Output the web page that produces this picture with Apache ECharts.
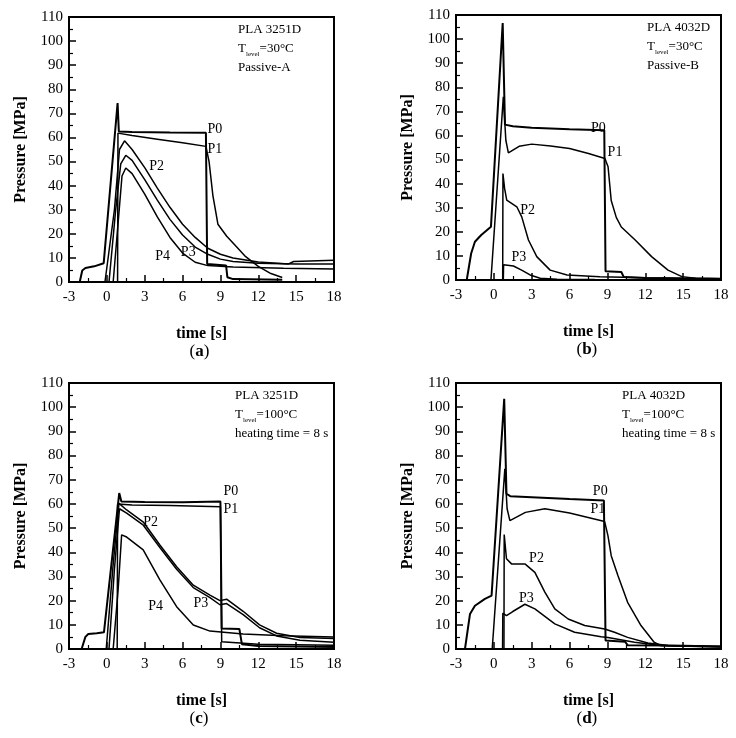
<!DOCTYPE html>
<html><head><meta charset="utf-8">
<script src="https://cdn.jsdelivr.net/npm/echarts@6/dist/echarts.min.js"></script>
<style>html,body{margin:0;padding:0;background:#fff}#c{width:736px;height:738px}</style>
</head><body><div id="c"></div>
<script>
// ---- axis ticks ----
const xMin = -3, xMax = 18, xStep = 3;
const yMin = 0, yMax = 110, yStep = 10;

// ---- panel (a) PLA 3251D, T=30°C, Passive-A ----
const a_P0 = [[-3,0],[-2.15,0],[-1.95,4.8],[-1.7,5.8],[-1,6.5],[-0.25,7.8],[0.85,74.3],[0.95,62.5],[2,62.3],[5,62.1],[7.85,62],[7.95,7.5],[9.45,6.8],[9.55,2],[10,1.2],[13.9,0.9]];
const a_P1 = [[0.85,0],[0.88,61.8],[2,60.8],[4,59.3],[6,57.8],[7.85,56.3],[8.1,50],[8.4,36],[8.8,24],[9.5,19],[10.2,15],[11,10.5],[12,6.5],[13,3.5],[13.9,1.9]];
const a_P2 = [[-0.15,0],[0.6,30],[1.0,55],[1.4,58.6],[2,55],[3,47.5],[4,39],[5,31],[6,24],[7,18.5],[8,14],[9,11.5],[10,10],[12,8.3],[14.4,7.5],[14.8,8.5],[18,9]];
const a_P3 = [[0.17,0],[0.7,30],[1.1,49],[1.5,52.6],[2,50.5],[3,42.5],[4,34],[5,26],[6,19.5],[7,14.5],[8,11.5],[9,9.5],[10,8.5],[12,7.8],[15,7.5],[18,7.5]];
const a_P4 = [[0.5,0],[0.9,25],[1.2,44],[1.5,47.3],[2,45],[3,36.5],[4,27],[5,18.5],[6,12],[7,8.2],[8,6.8],[10,6.2],[14,5.7],[18,5.4]];

// ---- panel (b) PLA 4032D, T=30°C, Passive-B ----
const b_P0 = [[-3,0],[-2.15,0],[-1.8,11],[-1.5,15.9],[-1,18.7],[-0.23,22.1],[0.7,106.7],[0.88,64.5],[1.5,63.8],[3,63.2],[6,62.6],[8.75,62.2],[8.85,3.6],[10.1,3.3],[10.3,1.2],[12,0.8],[15,0.6],[18,0.5]];
const b_P1 = [[-0.23,0],[0.75,76],[0.95,58],[1.15,52.8],[2,55.5],[3,56.4],[4.5,55.6],[6,54.6],[7.5,52.5],[8.8,50.4],[9.05,47],[9.3,33],[9.7,26],[10.1,22],[11.2,16.6],[12.5,9.7],[13.8,4.1],[14.9,1.4],[16,0.7],[18,0.5]];
const b_P2 = [[0.7,0],[0.72,44.2],[0.85,38],[1.02,33.2],[1.82,30.4],[2.21,26.2],[2.74,16.6],[3.4,9.7],[4.46,4.1],[5.8,2.1],[8.4,1.4],[12,0.9],[18,0.5]];
const b_P3 = [[0.75,0],[0.77,6.3],[1.55,5.8],[2.2,4.1],[2.87,2.1],[3.67,0.7],[5,0.3],[8,0.2]];

// ---- panel (c) PLA 3251D, T=100°C, heating 8 s ----
const c_P0 = [[-3,0],[-2.0,0],[-1.7,5],[-1.47,6.2],[-0.8,6.5],[-0.23,6.9],[0.98,64.5],[1.15,61],[3,60.8],[6,60.7],[9,61],[9.1,8.5],[10.5,8.3],[10.7,2],[12,1.2],[18,0.8]];
const c_P1 = [[0.82,0],[0.85,60],[2,59.5],[5,59.3],[9,58.8],[9.1,3],[12,2],[15,1.8],[18,1.5]];
const c_P2 = [[-0.05,0],[0.5,35],[0.96,60.2],[1.57,57.5],[2.89,52.5],[4.2,43],[5.53,34],[6.85,26.4],[8.17,22.3],[8.96,20],[9.49,20.6],[10.8,15.6],[12.1,10],[13.45,6.5],[15.3,4.8],[18,4.3]];
const c_P3 = [[0.17,0],[0.6,33],[1.0,58],[1.57,56.2],[2.89,51.2],[4.2,42],[5.53,33],[6.85,25.4],[8.17,21.2],[8.96,18.3],[9.49,18.8],[10.8,14.2],[12.1,8.8],[13.45,5.4],[15.3,3.6],[18,2.8]];
const c_P4 = [[0.5,0],[0.9,25],[1.17,47.2],[1.57,46.3],[2.88,41],[4.2,28.6],[5.53,17.5],[6.85,9.9],[8.17,7.4],[10.8,6.2],[14,5.5],[18,5]];

// ---- panel (d) PLA 4032D, T=100°C, heating 8 s ----
const d_P0 = [[-3,0],[-2.29,0],[-1.89,14.5],[-1.5,17.9],[-0.71,20.7],[-0.18,22.1],[0.82,103.5],[1.0,64.2],[1.3,63.2],[3,62.8],[6,62],[8.72,61.4],[8.85,3.5],[10.4,3],[10.6,1.6],[14,1.4],[18,1]];
const d_P1 = [[-0.13,0],[0.87,74.5],[1.05,58],[1.27,53.1],[2.5,56.5],[4.04,58],[6,56.2],[8.78,52.7],[9.04,46.9],[9.3,38.6],[9.83,30.4],[10.6,19.3],[11.66,9.7],[12.7,2.8],[13.25,1.4],[15,1.1],[18,1]];
const d_P2 = [[0.8,0],[0.82,47.3],[1.0,37.3],[1.4,35.2],[2.46,35.2],[3.25,31.7],[4.04,23.5],[4.83,16.6],[5.89,12.4],[7.2,9.7],[8.78,8.3],[9.56,6.9],[10.6,4.8],[12.2,2.5],[13.8,1.4],[18,1]];
const d_P3 = [[0.69,0],[0.71,14.8],[1.0,13.8],[1.5,15.5],[2.46,18.5],[3.25,16.6],[4.83,10.4],[6.4,6.9],[8.5,5.1],[9.04,4.8],[11.15,2.8],[13.25,1.4],[18,0.8]];

// ---- curve label positions [x, y, text] ----
const a_labels = [[8.56,63.4,'P0'],[8.56,55,'P1'],[3.94,47.9,'P2'],[6.45,12.4,'P3'],[4.42,10.6,'P4']];
const b_labels = [[8.28,62.9,'P0'],[9.6,52.8,'P1'],[2.68,29,'P2'],[1.99,9.3,'P3']];
const c_labels = [[9.82,65.4,'P0'],[9.82,57.7,'P1'],[3.46,52.2,'P2'],[7.45,18.9,'P3'],[3.86,17.5,'P4']];
const d_labels = [[8.43,65.4,'P0'],[8.25,57.7,'P1'],[3.38,37.5,'P2'],[2.58,21,'P3']];

// ---- annotation text ----
const a_note = ['PLA 3251D','30°C','Passive-A'];
const b_note = ['PLA 4032D','30°C','Passive-B'];
const c_note = ['PLA 3251D','100°C','heating time = 8 s'];
const d_note = ['PLA 4032D','100°C','heating time = 8 s'];
const captions = ['a','b','c','d'];

const FONT = '"Liberation Serif","DejaVu Serif",serif';
const grids = [
  {left:69, top:17, width:265, height:265},
  {left:456, top:15, width:265, height:265},
  {left:69, top:383, width:265, height:266},
  {left:456, top:383, width:265, height:266}
];
const noteLeft = [238, 647, 235, 622];
const panels = [
  {curves:[a_P0,a_P1,a_P2,a_P3,a_P4], labels:a_labels, note:a_note},
  {curves:[b_P0,b_P1,b_P2,b_P3], labels:b_labels, note:b_note},
  {curves:[c_P0,c_P1,c_P2,c_P3,c_P4], labels:c_labels, note:c_note},
  {curves:[d_P0,d_P1,d_P2,d_P3], labels:d_labels, note:d_note}
];

const option = {
  animation:false,
  backgroundColor:'#fff',
  grid: grids.map(g => Object.assign({show:true, borderColor:'#000', borderWidth:2, backgroundColor:'transparent'}, g)),
  xAxis: grids.map((g,i) => ({
    gridIndex:i, type:'value', min:xMin, max:xMax, interval:xStep,
    name:'time [s]', nameLocation:'middle', nameGap:44,
    nameTextStyle:{fontFamily:FONT, fontWeight:'bold', fontSize:16, color:'#000'},
    axisLine:{show:true, onZero:false, lineStyle:{color:'#000', width:2}},
    axisTick:{show:true, inside:true, length:7, lineStyle:{color:'#000', width:1.5}},
    minorTick:{show:true, splitNumber:2, length:4, lineStyle:{color:'#000', width:1.2}},
    axisLabel:{fontFamily:FONT, fontSize:15, color:'#000', margin:8},
    splitLine:{show:false}
  })),
  yAxis: grids.map((g,i) => ({
    gridIndex:i, type:'value', min:yMin, max:yMax, interval:yStep,
    name:'Pressure [MPa]', nameLocation:'middle', nameGap:40, nameRotate:90,
    nameTextStyle:{fontFamily:FONT, fontWeight:'bold', fontSize:16, color:'#000'},
    axisLine:{show:true, onZero:false, lineStyle:{color:'#000', width:2}},
    axisTick:{show:true, inside:true, length:7, lineStyle:{color:'#000', width:1.5}},
    minorTick:{show:true, splitNumber:2, length:4, lineStyle:{color:'#000', width:1.2}},
    axisLabel:{fontFamily:FONT, fontSize:15, color:'#000', margin:6},
    splitLine:{show:false}
  })),
  series: [],
  graphic: []
};

panels.forEach((p,i) => {
  p.curves.forEach((c,k) => {
    option.series.push({
      type:'line', xAxisIndex:i, yAxisIndex:i, data:c, showSymbol:false, symbol:'none',
      lineStyle:{color:'#000', width: k===0 ? 2 : 1.5}, z:3
    });
  });
  option.series.push({
    type:'scatter', xAxisIndex:i, yAxisIndex:i, symbolSize:1,
    itemStyle:{color:'rgba(0,0,0,0)', opacity:1},
    data:p.labels.map(l => ({value:[l[0],l[1]], name:l[2]})),
    label:{show:true, position:'inside', formatter:d => d.name, fontFamily:FONT, fontSize:14, color:'#000', opacity:1, textBorderWidth:0},
    z:5
  });
  const g = grids[i];
  option.graphic.push({
    type:'text', left: noteLeft[i], top: g.top + 6, z:10,
    style:{
      text: '{n|' + p.note[0] + '}\n{n|T}{s|level}{n|=' + p.note[1] + '}\n{n|' + p.note[2] + '}',
      rich:{ n:{fontFamily:FONT, fontSize:13, color:'#000', lineHeight:19},
             s:{fontFamily:FONT, fontSize:7, color:'#000', verticalAlign:'bottom', lineHeight:19, padding:[6,0,0,0]} },
      fill:'#000'
    }
  });
  option.graphic.push({
    type:'text', left: g.left + g.width/2 - 9 - 3, top: g.top + g.height + 61, z:10,
    style:{
      text:'{p|(}{b|' + captions[i] + '}{p|)}',
      rich:{p:{fontFamily:FONT, fontSize:17, color:'#000'}, b:{fontFamily:FONT, fontSize:17, fontWeight:'bold', color:'#000'}}
    }
  });
});

const chart = echarts.init(document.getElementById('c'), null, {renderer:'canvas'});
chart.setOption(option);
</script>
</body></html>
